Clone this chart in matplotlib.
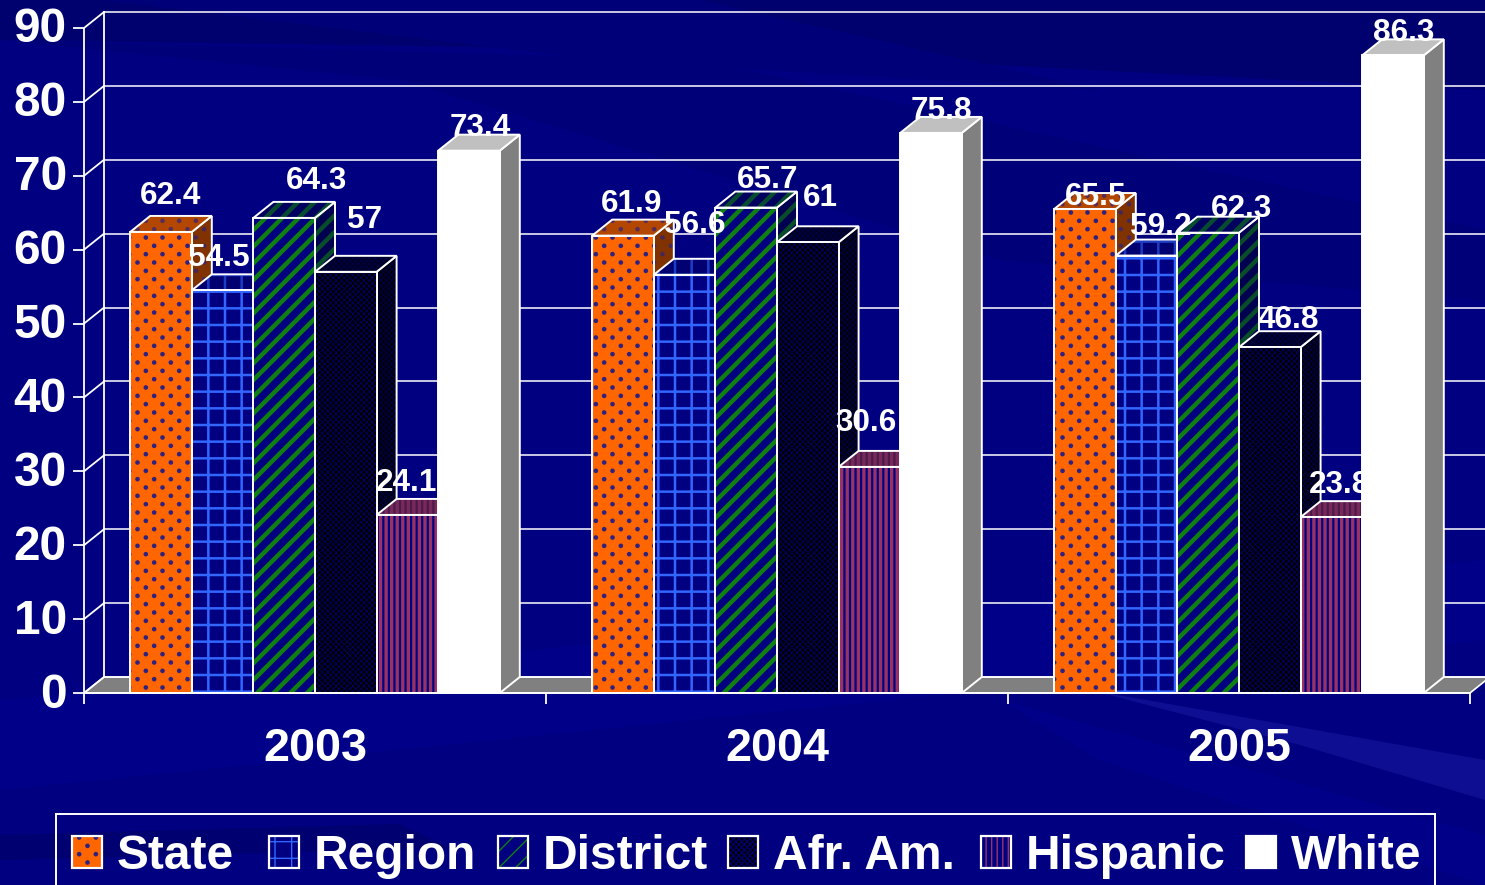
import matplotlib
matplotlib.use("Agg")
import matplotlib.pyplot as plt
import matplotlib.hatch as mhatch
from matplotlib.patches import Polygon, Patch, Rectangle
from matplotlib.path import Path
from matplotlib.transforms import Affine2D
from matplotlib.offsetbox import DrawingArea
from matplotlib.legend_handler import HandlerTuple

years = ["2003", "2004", "2005"]
series = ["State", "Region", "District", "Afr. Am.", "Hispanic", "White"]
state = [62.4, 61.9, 65.5]
region = [54.5, 56.6, 59.2]
district = [64.3, 65.7, 62.3]
afr_am = [57, 61, 46.8]
hispanic = [24.1, 30.6, 23.8]
white = [73.4, 75.8, 86.3]
values = [state, region, district, afr_am, hispanic, white]
y_ticks = [0, 10, 20, 30, 40, 50, 60, 70, 80, 90]

# per-series styling: face, hatch colour, hatch, line width, top face, side face
styles = [
    dict(face="#FF6600", hc="#2E2280", hatch=".", hl=1.0, top="#B34700", side="#803300"),
    dict(face="#000080", hc="#3366FF", hatch="+", hl=1.8, top="#000070", side="#000060"),
    dict(face="#000080", hc="#0F7F12", hatch="//", hl=3.2, top="#00005F", side="#000050"),
    dict(face="#000000", hc="#000068", hatch="xxxxxx", hl=0.6, top="#000020", side="#00000F"),
    dict(face="#000080", hc="#993366", hatch="|||", hl=2.4, top="#4A1A4A", side="#3A1040"),
    dict(face="#FFFFFF", hc="#FFFFFF", hatch=None, hl=1.0, top="#C0C0C0", side="#808080"),
]
# label shift from bar top centre, pixels
label_shift = [
    [(10, 36), (-4, 32), (32, 37), (19, 52), (-1, 32), (11, 23)],
    [(9, 32), (10, 50), (21, 28), (13, 44), (-3, 44), (10, 22)],
    [(11, 12), (14, 29), (33, 24), (18, 27), (8, 32), (11, 22)],
]
legend_gaps = [35, 21, 20, 26, 20]

W, H = 1485, 885
DPI = 100
FONT = "Liberation Sans"
NAVY = "#000080"
plt.rcParams["font.family"] = FONT
plt.rcParams["font.weight"] = "bold"


class StaggeredDots(mhatch.HatchPatternBase):
    """Dot texture: rows twice as close as the columns, every other row shifted."""
    circle = Path.unit_circle()

    def __init__(self, hatch, density):
        self.cols = hatch.count(".") * density
        self.num_vertices = 2 * self.cols * self.cols * len(self.circle.vertices)

    def set_vertices_and_codes(self, vertices, codes):
        n = len(self.circle.vertices)
        k = 0
        for row in range(2 * self.cols):
            for col in range(self.cols):
                cx = (col + 0.25 + 0.5 * (row % 2)) / self.cols
                cy = (row + 0.5) / (2 * self.cols)
                vertices[k:k + n] = self.circle.vertices * 0.016 + [cx, cy]
                codes[k:k + n] = self.circle.codes
                k += n


mhatch._hatch_types[mhatch._hatch_types.index(mhatch.SmallFilledCircles)] = StaggeredDots

fig = plt.figure(figsize=(W / DPI, H / DPI), dpi=DPI, facecolor=NAVY)


def bg(points, color):
    fig.patches.append(Polygon([(x / W, 1 - y / H) for x, y in points], closed=True,
                               transform=fig.transFigure, facecolor=color,
                               edgecolor="none", zorder=-5))


bg([(0, 0), (1485, 0), (1485, 90), (700, 50), (0, 40)], "#00006E")
bg([(100, 0), (700, 0), (1100, 90), (600, 60)], "#000078")
bg([(0, 40), (400, 80), (1000, 260), (1485, 300), (1485, 230), (700, 60)], "#000078")
bg([(0, 700), (1485, 560), (1485, 640), (0, 790)], "#000088")
bg([(0, 835), (400, 824), (450, 848), (0, 860)], "#000070")
bg([(1000, 700), (1485, 835), (1485, 885), (1100, 760)], "#000088")
bg([(1090, 690), (1485, 760), (1485, 800), (1300, 745)], "#0E0E92")

LEFT, RIGHT, BOTTOM, TOP = 84, 1470, 693, 28
ax = fig.add_axes([LEFT / W, 1 - BOTTOM / H, (RIGHT - LEFT) / W, (BOTTOM - TOP) / H])
ax.patch.set_visible(False)
ax.set_xlim(0, 3)
ax.set_ylim(0, 90)

dx = 20 / ((RIGHT - LEFT) / 3)
dy = 16 / ((BOTTOM - TOP) / 90)
x_max = 3 + dx

# floor and back wall
ax.add_patch(Polygon([(0, 0), (dx, dy), (x_max, dy), (3, 0)], closed=True, clip_on=False,
                     facecolor="#808080", edgecolor="white", lw=1.2, zorder=1))
for t in y_ticks:
    ax.plot([0, dx], [t, t + dy], color="white", lw=1.3, clip_on=False, zorder=1.1)
    ax.plot([dx, x_max], [t + dy, t + dy], color="white", lw=1.1, clip_on=False, zorder=1.1)
ax.plot([dx, dx], [dy, 90 + dy], color="white", lw=1.3, clip_on=False, zorder=1.1)

bar_w = 0.8 / 6
z = 2.0
for i in range(3):
    for s, vals in enumerate(values):
        st = styles[s]
        v = vals[i]
        x0 = i + 0.1 + s * bar_w
        x1 = x0 + bar_w
        plt.rcParams["hatch.linewidth"] = st["hl"]
        # side and top faces
        side = [(x1, 0), (x1 + dx, dy), (x1 + dx, v + dy), (x1, v)]
        top = [(x0, v), (x0 + dx, v + dy), (x1 + dx, v + dy), (x1, v)]
        for pts, col in ((side, st["side"]), (top, st["top"])):
            ax.add_patch(Polygon(pts, closed=True, facecolor=col, edgecolor="none",
                                 clip_on=False, zorder=z))
            if st["hatch"]:
                ax.add_patch(Polygon(pts, closed=True, facecolor="none",
                                     edgecolor=st["hc"], lw=0, hatch=st["hatch"],
                                     alpha=0.6, clip_on=False, zorder=z))
            ax.add_patch(Polygon(pts, closed=True, facecolor="none", edgecolor="white",
                                 lw=1.4, clip_on=False, zorder=z))
        # front face
        ax.bar(x0, v, bar_w, align="edge", color=st["face"], edgecolor=st["hc"], lw=0,
               hatch=st["hatch"], zorder=z + 0.1)
        ax.bar(x0, v, bar_w, align="edge", fill=False, edgecolor="white", lw=1.4, zorder=z + 0.2)
        z += 0.5

for i in range(3):
    for s, vals in enumerate(values):
        x = i + 0.1 + (s + 0.5) * bar_w
        ax.annotate(f"{vals[i]:g}", (x, vals[i]), xytext=label_shift[i][s],
                    textcoords="offset pixels", ha="center", va="center",
                    color="white", fontsize=22.7, fontweight="bold",
                    annotation_clip=False, zorder=50)

for sp in ("top", "right"):
    ax.spines[sp].set_visible(False)
for sp in ("left", "bottom"):
    ax.spines[sp].set_color("white")
    ax.spines[sp].set_linewidth(1.3)
    ax.spines[sp].set_zorder(40)

ax.set_yticks(y_ticks)
ax.set_xticks([0, 1, 2, 3])
ax.set_xticklabels([])
ax.set_xticks([0.5, 1.5, 2.5], labels=years, minor=True)
ax.tick_params(axis="y", colors="white", length=8, width=1.3, pad=4.3, labelsize=34.5)
for lab in ax.get_yticklabels():
    lab.set_verticalalignment("center_baseline")
    lab.set_transform(lab.get_transform() + Affine2D().translate(0, 3))
ax.tick_params(axis="x", which="major", colors="white", length=8, width=1.3)
ax.tick_params(axis="x", which="minor", colors="white", length=0, pad=24.5, labelsize=33.7)

# legend
fig.patches.append(Rectangle((56 / W, -0.02), (1435 - 56) / W, 1 - 814 / H + 0.02,
                             transform=fig.transFigure, facecolor="none",
                             edgecolor="white", lw=1.4, zorder=5))
handles = []
for s, name in enumerate(series):
    st = styles[s]
    plt.rcParams["hatch.linewidth"] = st["hl"]
    fill = Patch(facecolor=st["face"], edgecolor=st["hc"], lw=0, hatch=st["hatch"])
    handles.append((fill, Patch(facecolor="none", edgecolor="white", lw=1.6)))
leg = fig.legend(handles, series, ncol=6, loc="upper left",
                 bbox_to_anchor=(72 / W, 1 - 834 / H), borderaxespad=0,
                 handler_map={tuple: HandlerTuple(ndivide=1, pad=0)},
                 prop={"family": FONT, "weight": "bold", "size": 34.5},
                 labelcolor="white", handlelength=0.63, handleheight=0.63,
                 handletextpad=0.31, columnspacing=0, borderpad=0,
                 frameon=False)
# individual spacing between legend columns
box = leg._legend_handle_box
cols = box.get_children()
packed = []
for c, col in enumerate(cols):
    packed.append(col)
    if c < len(legend_gaps):
        spacer = DrawingArea(legend_gaps[c] * 72 / DPI, 0)
        spacer.set_figure(fig)
        packed.append(spacer)
box._children = packed

fig.savefig("out.png", dpi=DPI, facecolor=fig.get_facecolor())
